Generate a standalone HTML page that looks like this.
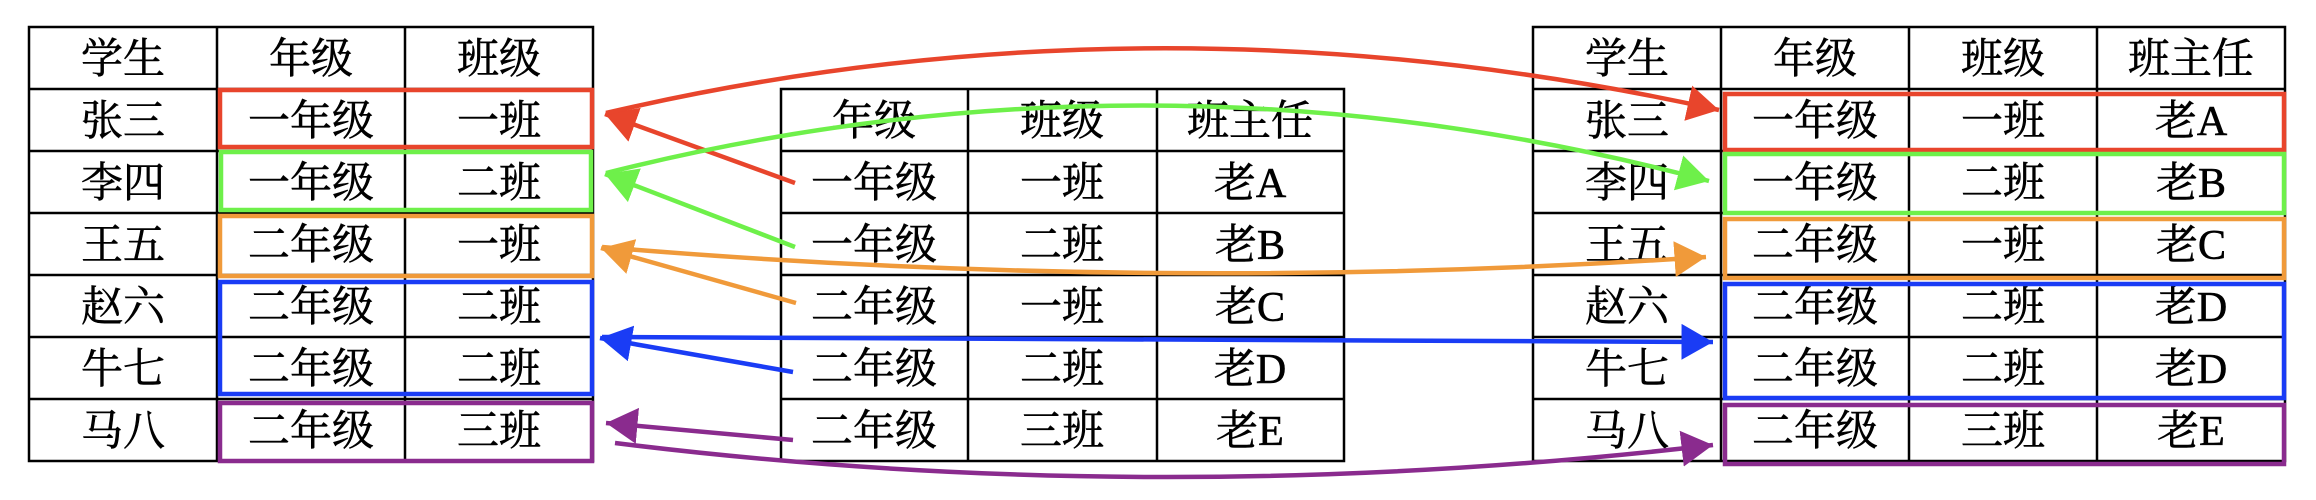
<!DOCTYPE html>
<html><head><meta charset="utf-8"><style>
html,body{margin:0;padding:0;background:#fff;width:2316px;height:500px;overflow:hidden}
svg text{font-family:"Liberation Serif","Noto Serif CJK SC",serif;font-size:42px;fill:#000;stroke:#000;stroke-width:0.6px;text-anchor:middle}
</style></head><body>
<svg width="2316" height="500" viewBox="0 0 2316 500" xmlns="http://www.w3.org/2000/svg">
<defs>
<marker id="mr" markerWidth="8" markerHeight="8" refX="7" refY="4" orient="auto" markerUnits="strokeWidth"><path d="M0,0 L7,4 L0,8 Z" fill="#e8452c"/></marker>
<marker id="mg" markerWidth="8" markerHeight="8" refX="7" refY="4" orient="auto" markerUnits="strokeWidth"><path d="M0,0 L7,4 L0,8 Z" fill="#6ef04a"/></marker>
<marker id="mo" markerWidth="8" markerHeight="8" refX="7" refY="4" orient="auto" markerUnits="strokeWidth"><path d="M0,0 L7,4 L0,8 Z" fill="#f09a3a"/></marker>
<marker id="mb" markerWidth="8" markerHeight="8" refX="7" refY="4" orient="auto" markerUnits="strokeWidth"><path d="M0,0 L7,4 L0,8 Z" fill="#1a3cf5"/></marker>
<marker id="mp" markerWidth="8" markerHeight="8" refX="7" refY="4" orient="auto" markerUnits="strokeWidth"><path d="M0,0 L7,4 L0,8 Z" fill="#8a2b8e"/></marker>
</defs>
<g stroke="#000" stroke-width="2.5" fill="none">
<rect x="29" y="27" width="564" height="434"/>
<path d="M217 27V461M405 27V461M29 89H593M29 151H593M29 213H593M29 275H593M29 337H593M29 399H593"/>
<rect x="781" y="89" width="563" height="372"/>
<path d="M968 89V461M1157 89V461M781 151H1344M781 213H1344M781 275H1344M781 337H1344M781 399H1344"/>
<rect x="1533" y="27" width="752" height="434"/>
<path d="M1721 27V461M1909 27V461M2097 27V461M1533 89H2285M1533 151H2285M1533 213H2285M1533 275H2285M1533 337H2285M1533 399H2285"/>
</g>
<g>
<text x="123" y="73">学生</text><text x="311" y="73">年级</text><text x="499" y="73">班级</text>
<text x="123" y="135">张三</text><text x="311" y="135">一年级</text><text x="499" y="135">一班</text>
<text x="123" y="197">李四</text><text x="311" y="197">一年级</text><text x="499" y="197">二班</text>
<text x="123" y="259">王五</text><text x="311" y="259">二年级</text><text x="499" y="259">一班</text>
<text x="123" y="321">赵六</text><text x="311" y="321">二年级</text><text x="499" y="321">二班</text>
<text x="123" y="383">牛七</text><text x="311" y="383">二年级</text><text x="499" y="383">二班</text>
<text x="123" y="445">马八</text><text x="311" y="445">二年级</text><text x="499" y="445">三班</text>

<text x="874" y="135">年级</text><text x="1062" y="135">班级</text><text x="1250" y="135">班主任</text>
<text x="874" y="197">一年级</text><text x="1062" y="197">一班</text><text x="1250" y="197">老A</text>
<text x="874" y="259">一年级</text><text x="1062" y="259">二班</text><text x="1250" y="259">老B</text>
<text x="874" y="321">二年级</text><text x="1062" y="321">一班</text><text x="1250" y="321">老C</text>
<text x="874" y="383">二年级</text><text x="1062" y="383">二班</text><text x="1250" y="383">老D</text>
<text x="874" y="445">二年级</text><text x="1062" y="445">三班</text><text x="1250" y="445">老E</text>

<text x="1627" y="73">学生</text><text x="1815" y="73">年级</text><text x="2003" y="73">班级</text><text x="2191" y="73">班主任</text>
<text x="1627" y="135">张三</text><text x="1815" y="135">一年级</text><text x="2003" y="135">一班</text><text x="2191" y="135">老A</text>
<text x="1627" y="197">李四</text><text x="1815" y="197">一年级</text><text x="2003" y="197">二班</text><text x="2191" y="197">老B</text>
<text x="1627" y="259">王五</text><text x="1815" y="259">二年级</text><text x="2003" y="259">一班</text><text x="2191" y="259">老C</text>
<text x="1627" y="321">赵六</text><text x="1815" y="321">二年级</text><text x="2003" y="321">二班</text><text x="2191" y="321">老D</text>
<text x="1627" y="383">牛七</text><text x="1815" y="383">二年级</text><text x="2003" y="383">二班</text><text x="2191" y="383">老D</text>
<text x="1627" y="445">马八</text><text x="1815" y="445">二年级</text><text x="2003" y="445">三班</text><text x="2191" y="445">老E</text>
</g>
<g fill="none" stroke-width="4.5">
<rect x="220" y="90" width="372" height="57" stroke="#e8452c"/>
<rect x="221" y="152" width="370" height="58" stroke="#6ef04a"/>
<rect x="220" y="216" width="372" height="60" stroke="#f09a3a"/>
<rect x="220" y="282" width="372" height="112" stroke="#1a3cf5"/>
<rect x="220" y="403" width="372" height="58" stroke="#8a2b8e"/>
<rect x="1725" y="94" width="559" height="56" stroke="#e8452c"/>
<rect x="1725" y="154" width="559" height="59" stroke="#6ef04a"/>
<rect x="1725" y="219" width="559" height="59" stroke="#f09a3a"/>
<rect x="1725" y="284" width="559" height="114" stroke="#1a3cf5"/>
<rect x="1725" y="405" width="559" height="59" stroke="#8a2b8e"/>
</g>
<g fill="none" stroke-width="4.5">
<path d="M795 183 L605 114" stroke="#e8452c" marker-end="url(#mr)"/>
<path d="M606 113 Q1154 -15 1719 110" stroke="#e8452c" marker-end="url(#mr)"/>
<path d="M795 247 L605 174" stroke="#6ef04a" marker-end="url(#mg)"/>
<path d="M606 173 Q1158 34 1709 181" stroke="#6ef04a" marker-end="url(#mg)"/>
<path d="M796 303 L601 248" stroke="#f09a3a" marker-end="url(#mo)"/>
<path d="M602 247 Q1154 294 1706 257" stroke="#f09a3a" marker-end="url(#mo)"/>
<path d="M793 372 L600 338" stroke="#1a3cf5" marker-end="url(#mb)"/>
<path d="M602 337 L1713 342" stroke="#1a3cf5" marker-end="url(#mb)"/>
<path d="M793 440 L606 423" stroke="#8a2b8e" marker-end="url(#mp)"/>
<path d="M615 443 Q1154 510 1713 445" stroke="#8a2b8e" marker-end="url(#mp)"/>
</g>
</svg>
</body></html>
